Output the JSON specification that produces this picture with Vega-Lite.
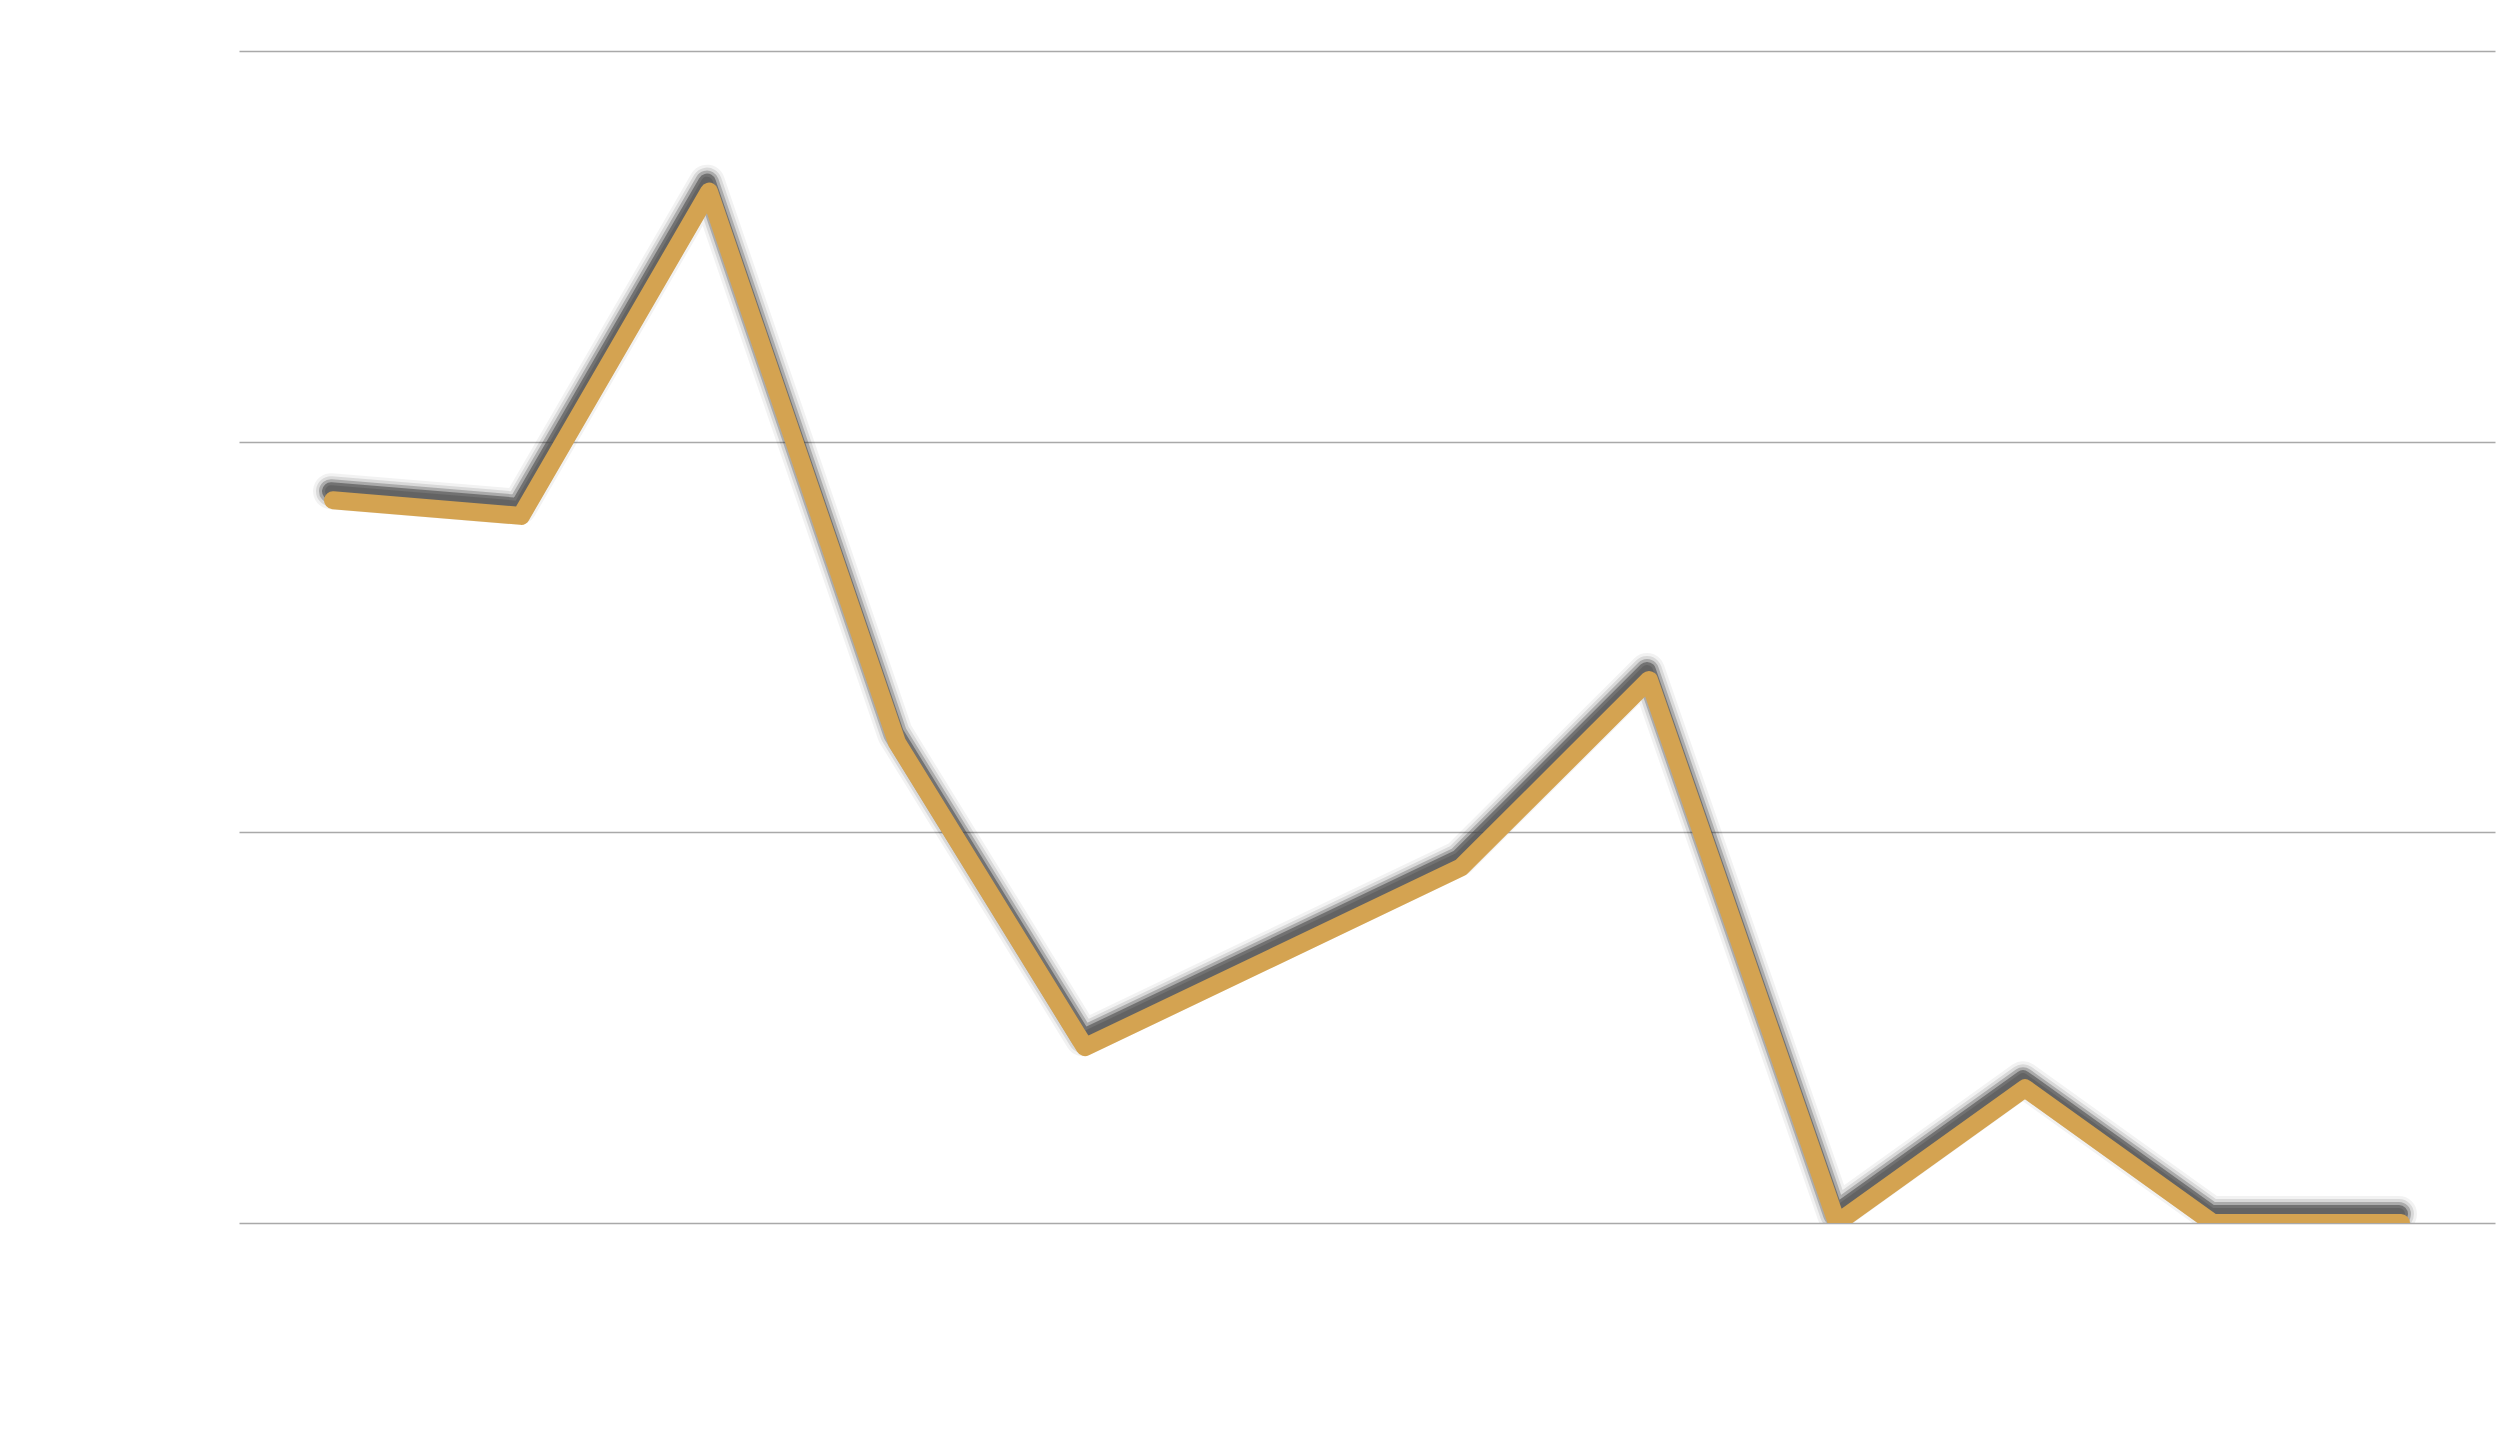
{
  "$schema": "https://vega.github.io/schema/vega-lite/v6.json",
  "width": 2256,
  "height": 1172,
  "autosize": {"type": "none"},
  "padding": {"left": 239, "top": 51, "right": 5, "bottom": 225},
  "background": "#ffffff",
  "config": {"view": {"stroke": null}},
  "data": {"values": [
    {"period": 1, "value": 18.5},
    {"period": 2, "value": 18.1},
    {"period": 3, "value": 26.4},
    {"period": 4, "value": 12.3},
    {"period": 5, "value": 4.5},
    {"period": 6, "value": 6.8},
    {"period": 7, "value": 9.1},
    {"period": 8, "value": 13.9},
    {"period": 9, "value": 0},
    {"period": 10, "value": 3.45},
    {"period": 11, "value": 0},
    {"period": 12, "value": 0}
  ]},
  "encoding": {
    "x": {"field": "period", "type": "ordinal", "scale": {"type": "point", "padding": 0.5}, "axis": null},
    "y": {"field": "value", "type": "quantitative", "scale": {"domain": [0, 30], "nice": false, "zero": true},
      "axis": {"values": [0, 10, 20, 30], "labels": false, "ticks": false, "domain": false, "title": null, "grid": true, "gridColor": "#a9a9a9", "gridWidth": 1.5}}
  },
  "layer": [
    {"mark": {"type": "line", "clip": true, "color": "#000000", "opacity": 0.05, "strokeWidth": 36, "strokeCap": "round", "strokeJoin": "round", "yOffset": -9, "xOffset": -2}},
    {"mark": {"type": "line", "clip": true, "color": "#000000", "opacity": 0.1, "strokeWidth": 30, "strokeCap": "round", "strokeJoin": "round", "yOffset": -9, "xOffset": -2}},
    {"mark": {"type": "line", "clip": true, "color": "#222222", "opacity": 0.25, "strokeWidth": 24, "strokeCap": "round", "strokeJoin": "round", "yOffset": -9, "xOffset": -2}},
    {"mark": {"type": "line", "clip": true, "color": "#444444", "opacity": 0.55, "strokeWidth": 18, "strokeCap": "round", "strokeJoin": "round", "yOffset": -9, "xOffset": -2}},
    {"mark": {"type": "line", "clip": true, "color": "#5a5a5a", "opacity": 0.6, "strokeWidth": 12, "strokeCap": "round", "strokeJoin": "round", "yOffset": -9, "xOffset": -2}},
    {"mark": {"type": "line", "clip": true, "color": "#D4A351", "strokeWidth": 18, "strokeCap": "round", "strokeJoin": "round"}}
  ]
}
